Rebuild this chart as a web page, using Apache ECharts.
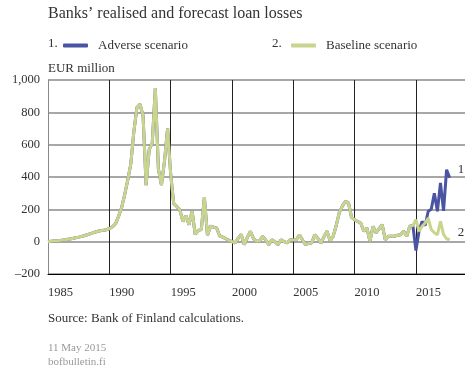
<!DOCTYPE html>
<html>
<head>
<meta charset="utf-8">
<script src="https://cdn.jsdelivr.net/npm/echarts@6/dist/echarts.min.js"></script>
<style>
  html, body { margin: 0; padding: 0; background: #fff; }
  #chart { width: 465px; height: 369px; }
</style>
</head>
<body>
<div id="chart"></div>
<script>
// quarterly data, first quarter 1985 Q1
const startYear = 1985;
const baseline = [
  0, 2, 4, 6,          // 1985
  8, 10, 13, 16,       // 1986
  20, 24, 28, 33,      // 1987
  38, 44, 50, 57,      // 1988
  63, 67, 70, 74,      // 1989
  80, 92, 110, 155,    // 1990
  210, 290, 380, 480,  // 1991
  680, 830, 850, 780,  // 1992
  350, 570, 610, 950,  // 1993
  450, 350, 500, 700,  // 1994
  420, 235, 218, 195,  // 1995
  125, 160, 105, 190,  // 1996
  45, 70, 75, 275,     // 1997
  40, 95, 90, 85,      // 1998
  35, 28, 18, 8,       // 1999
  0, -8, 20, 45,       // 2000
  -18, 25, 64, 20,     // 2001
  2, 5, 33, 10,        // 2002
  -18, 12, 0, -18,     // 2003
  12, 0, -8, 12,       // 2004
  10, 12, 43, 10,      // 2005
  -18, -10, -8, 43,    // 2006
  20, -8, 30, 64,      // 2007
  5, 33, 100, 180,     // 2008
  220, 250, 240, 150,  // 2009
  136, 125, 115, 64,   // 2010
  85, 2, 95, 54,       // 2011
  80, 105, 12, 33,     // 2012
  33, 33, 40, 43,      // 2013
  64, 33, 95, 100,     // 2014
  136, 64, 95, 115,    // 2015
  146, 75, 55, 43,     // 2016
  125, 45, 18, 12      // 2017
];
// adverse scenario departs from baseline in 2015 Q1
const adverseFrom = 120;
const adverseForecast = [
  -55, 64, 125, 100,   // 2015
  188, 200, 300, 188,  // 2016
  363, 190, 445, 395   // 2017
];
const adverse = baseline.slice(0, adverseFrom).concat(adverseForecast);
const yTicks = [-200, 0, 200, 400, 600, 800, 1000];

const toPoints = arr => arr.map((v, i) => [startYear + i / 4, v]);

const serif = '"Liberation Serif", "DejaVu Serif", serif';
const blue = '#4a54a3';
const green = '#c9d58c';

const chart = echarts.init(document.getElementById('chart'));
chart.setOption({
  animation: false,
  textStyle: { fontFamily: serif },
  title: [
    { text: 'Banks’ realised and forecast loan losses', left: 48, top: 6, padding: 0,
      textStyle: { fontFamily: serif, fontSize: 16, fontWeight: 'normal', color: '#333' } },
    { text: 'EUR million', left: 48, top: 62, padding: 0,
      textStyle: { fontFamily: serif, fontSize: 13, fontWeight: 'normal', color: '#333' } },
    { text: 'Source: Bank of Finland calculations.', left: 48, top: 312, padding: 0,
      textStyle: { fontFamily: serif, fontSize: 13, fontWeight: 'normal', color: '#333' } },
    { text: '11 May 2015\nbofbulletin.fi', left: 48, top: 341, padding: 0,
      textStyle: { fontFamily: serif, fontSize: 11, fontWeight: 'normal', color: '#999', lineHeight: 14 } }
  ],
  graphic: [
    { type: 'text', left: 48, top: 37, style: { text: '1.', font: '13px ' + serif, fill: '#333' } },
    { type: 'text', left: 272, top: 37, style: { text: '2.', font: '13px ' + serif, fill: '#333' } }
  ],
  legend: [
    { data: ['Adverse scenario'], left: 58, top: 34, icon: 'roundRect', itemWidth: 25, itemHeight: 4,
      textStyle: { fontFamily: serif, fontSize: 13, color: '#333', padding: [0, 0, 0, 5] } },
    { data: ['Baseline scenario'], left: 286, top: 34, icon: 'roundRect', itemWidth: 25, itemHeight: 4,
      textStyle: { fontFamily: serif, fontSize: 13, color: '#333', padding: [0, 0, 0, 5] } }
  ],
  grid: { left: 48, right: 0, top: 80, bottom: 95 },
  xAxis: {
    type: 'value', min: 1985, max: 2019, interval: 5,
    axisLine: { onZero: false, lineStyle: { color: '#000', width: 1 } },
    axisTick: { show: false },
    axisLabel: {
      align: 'left', margin: 12, fontSize: 12.5, color: '#333', fontFamily: serif,
      showMaxLabel: false,
      formatter: v => (v <= 2015 ? String(v) : '')
    },
    splitLine: { show: true, showMaxLine: false, lineStyle: { color: '#222', width: 1 } }
  },
  yAxis: {
    type: 'value', min: yTicks[0], max: yTicks[yTicks.length - 1], interval: 200,
    axisLine: { show: true, onZero: false, lineStyle: { color: '#888', width: 1 } },
    axisTick: { show: false },
    axisLabel: {
      margin: 8, fontSize: 12.5, color: '#333', fontFamily: serif,
      formatter: v => (v < 0 ? '–' + Math.abs(v) : v >= 1000 ? '1,' + String(v).slice(1) : String(v))
    },
    splitLine: { show: true, lineStyle: { color: '#8a8a8a', width: 1.5 } }
  },
  series: [
    {
      name: 'Adverse scenario', type: 'line', data: toPoints(adverse),
      showSymbol: false, color: blue, lineStyle: { color: blue, width: 3 },
      endLabel: { show: true, formatter: '1', fontSize: 13, color: '#333', fontFamily: serif, offset: [0, -8] },
      z: 2
    },
    {
      name: 'Baseline scenario', type: 'line', data: toPoints(baseline),
      showSymbol: false, color: green, lineStyle: { color: green, width: 3 },
      endLabel: { show: true, formatter: '2', fontSize: 13, color: '#333', fontFamily: serif, offset: [0, -7] },
      z: 3
    }
  ]
});
</script>
</body>
</html>
